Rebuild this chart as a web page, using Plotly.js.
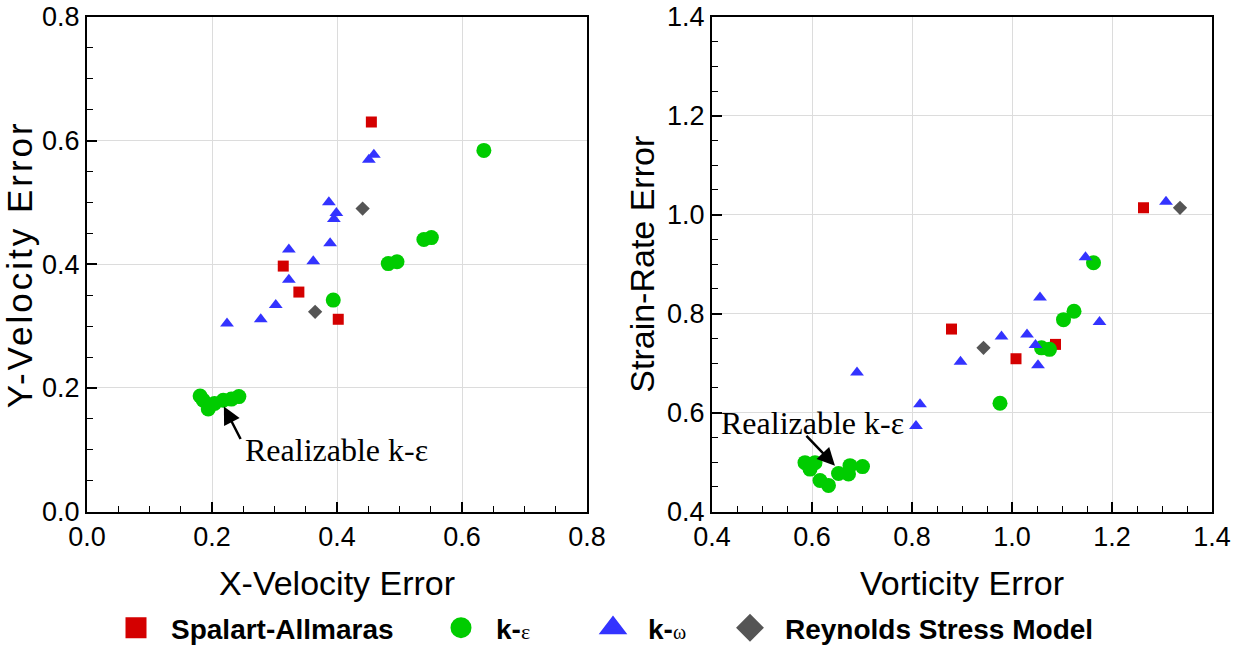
<!DOCTYPE html>
<html><head><meta charset="utf-8">
<script src="https://cdn.plot.ly/plotly-3.0.1.min.js"></script>
<style>html,body{margin:0;padding:0;background:#fff}#chart{width:1240px;height:653px}</style>
</head><body><div id="chart"></div><script>
// ---------- Data: left panel (X-Velocity Error vs Y-Velocity Error) ----------
const saVelX = [0.455, 0.314, 0.339, 0.402];
const saVelY = [0.630, 0.397, 0.355, 0.311];
const keVelX = [0.635, 0.551, 0.539, 0.496, 0.482, 0.394, 0.181, 0.186, 0.194, 0.204, 0.218, 0.231, 0.243];
const keVelY = [0.584, 0.443, 0.440, 0.404, 0.401, 0.342, 0.187, 0.180, 0.166, 0.175, 0.180, 0.182, 0.186];
const kwVelX = [0.459, 0.451, 0.387, 0.399, 0.395, 0.389, 0.323, 0.362, 0.323, 0.302, 0.278, 0.224];
const kwVelY = [0.577, 0.569, 0.500, 0.483, 0.473, 0.434, 0.424, 0.405, 0.375, 0.334, 0.311, 0.304];
const rsVelX = [0.441, 0.365];
const rsVelY = [0.490, 0.323];

// ---------- Data: right panel (Vorticity Error vs Strain-Rate Error) ----------
const saVortX = [1.263, 0.879, 1.008, 1.087];
const saVortY = [1.014, 0.769, 0.709, 0.738];
const keVortX = [1.163, 1.124, 1.103, 1.059, 1.075, 0.976, 0.586, 0.606, 0.596, 0.616, 0.633, 0.653, 0.673, 0.676, 0.701];
const keVortY = [0.903, 0.805, 0.788, 0.731, 0.728, 0.619, 0.499, 0.499, 0.486, 0.463, 0.453, 0.477, 0.476, 0.493, 0.491];
const kwVortX = [1.308, 1.147, 1.056, 1.175, 0.979, 1.030, 1.047, 1.052, 0.897, 0.690, 0.816, 0.808];
const kwVortY = [1.026, 0.914, 0.833, 0.783, 0.754, 0.758, 0.737, 0.696, 0.703, 0.681, 0.617, 0.573];
const rsVortX = [1.336, 0.943];
const rsVortY = [1.014, 0.731];

// ---------- Labels ----------
const modelNames = ['Spalart-Allmaras', 'k-ε', 'k-ω', 'Reynolds Stress Model'];
const axisTitles = {
  x1: 'X-Velocity Error',
  y1: '<span style="letter-spacing:3px">Y-Velocity Error</span>',
  x2: 'Vorticity Error',
  y2: 'Strain-Rate Error'
};
const noteText = 'Realizable k-ε';
// annotation anchor points (data coordinates)
const note1 = {textX: 0.399, textY: 0.100, tailX: 0.247, tailY: 0.115, tipX: 0.219, tipY: 0.170};
const note2 = {textX: 0.601, textY: 0.580, tailX: 0.586, tailY: 0.556, tipX: 0.646, tipY: 0.493};

// ---------- Styles ----------
const colors = ['#d40000', '#00cc00', '#3333ff', '#555555'];
const symbols = ['square', 'circle', 'triangle-up', 'diamond'];
const sizes = [11, 15, 12, 11];

const W = 1240, H = 653;
const FONT = 'Liberation Sans, Arial, sans-serif';

function pts(i, x, y, xa, ya) {
  return {type: 'scatter', mode: 'markers', x: x, y: y, xaxis: xa, yaxis: ya,
    name: modelNames[i], showlegend: false,
    marker: {symbol: symbols[i], color: colors[i], size: sizes[i], line: {width: 0}}};
}
const legendIds = ['legend', 'legend2', 'legend3', 'legend4'];
const legendLabels = [
  modelNames[0],
  'k-<span style="font-family:Liberation Serif;font-weight:normal;font-size:22px">ε</span>',
  'k-<span style="font-family:Liberation Serif;font-weight:normal;font-size:20px">ω</span>',
  modelNames[3]
];
function leg(i) {
  return {type: 'scatter', mode: 'markers', x: [null], y: [null], xaxis: 'x', yaxis: 'y',
    name: legendLabels[i], legend: legendIds[i], showlegend: true, hoverinfo: 'skip',
    marker: {symbol: symbols[i], color: colors[i], size: 16, line: {color: colors[i], width: 5}}};
}

const data = [
  pts(0, saVelX, saVelY, 'x', 'y'), pts(1, keVelX, keVelY, 'x', 'y'),
  pts(2, kwVelX, kwVelY, 'x', 'y'), pts(3, rsVelX, rsVelY, 'x', 'y'),
  pts(0, saVortX, saVortY, 'x2', 'y2'), pts(1, keVortX, keVortY, 'x2', 'y2'),
  pts(2, kwVortX, kwVortY, 'x2', 'y2'), pts(3, rsVortX, rsVortY, 'x2', 'y2'),
  leg(0), leg(1), leg(2), leg(3)
];

function axis(dom, range, title, anchor, standoff, tsize) {
  return {
    domain: dom, range: range, anchor: anchor, dtick: 0.2, tick0: 0, tickformat: '.1f',
    ticks: 'inside', ticklen: 10, tickwidth: 2, tickcolor: '#000',
    showline: true, linecolor: '#000', linewidth: 2, mirror: true,
    showgrid: true, gridcolor: '#dcdcdc', gridwidth: 1, zeroline: false,
    minor: {dtick: 0.05, ticks: 'inside', ticklen: 6, tickwidth: 1, tickcolor: '#000', showgrid: false},
    tickfont: {family: FONT, size: 27, color: '#000'},
    title: {text: title, standoff: standoff, font: {family: FONT, size: tsize, color: '#000'}},
    fixedrange: true
  };
}
const yDom = [1 - 518 / H, 1 - 17 / H];

const legendPos = [101, 426, 578, 715];
const layout = {
  width: W, height: H, margin: {l: 0, r: 0, t: 0, b: 0},
  paper_bgcolor: '#fff', plot_bgcolor: '#fff',
  font: {family: FONT, color: '#000'},
  xaxis: axis([87 / W, 587 / W], [0, 0.8], axisTitles.x1, 'y', 20, 34),
  yaxis: axis(yDom, [0, 0.8], axisTitles.y1, 'x', 4, 35),
  xaxis2: axis([712 / W, 1212 / W], [0.4, 1.4], axisTitles.x2, 'y2', 20, 34),
  yaxis2: axis(yDom, [0.4, 1.4], axisTitles.y2, 'x2', 2, 34),
  annotations: [
    {xref: 'x', yref: 'y', x: note1.textX, y: note1.textY, text: noteText, showarrow: false,
     font: {family: 'Liberation Serif, Times New Roman, serif', size: 32, color: '#000'}},
    {xref: 'x', yref: 'y', x: note1.tipX, y: note1.tipY, axref: 'x', ayref: 'y', ax: note1.tailX, ay: note1.tailY,
     text: '', showarrow: true, arrowhead: 2, arrowsize: 1.4, arrowwidth: 2.5, arrowcolor: '#000'},
    {xref: 'x2', yref: 'y2', x: note2.textX, y: note2.textY, text: noteText, showarrow: false,
     font: {family: 'Liberation Serif, Times New Roman, serif', size: 32, color: '#000'}},
    {xref: 'x2', yref: 'y2', x: note2.tipX, y: note2.tipY, axref: 'x2', ayref: 'y2', ax: note2.tailX, ay: note2.tailY,
     text: '', showarrow: true, arrowhead: 2, arrowsize: 1.4, arrowwidth: 2.5, arrowcolor: '#000'}
  ]
};
legendIds.forEach(function (id, i) {
  layout[id] = {orientation: 'h', x: legendPos[i] / W, xanchor: 'left', y: 1 - 636 / H, yanchor: 'middle',
    bgcolor: 'rgba(0,0,0,0)', borderwidth: 0, itemwidth: 60,
    font: {family: FONT, size: 28, color: '#000', weight: 'bold'}};
});

Plotly.newPlot('chart', data, layout, {staticPlot: true, displayModeBar: false});
</script></body></html>
